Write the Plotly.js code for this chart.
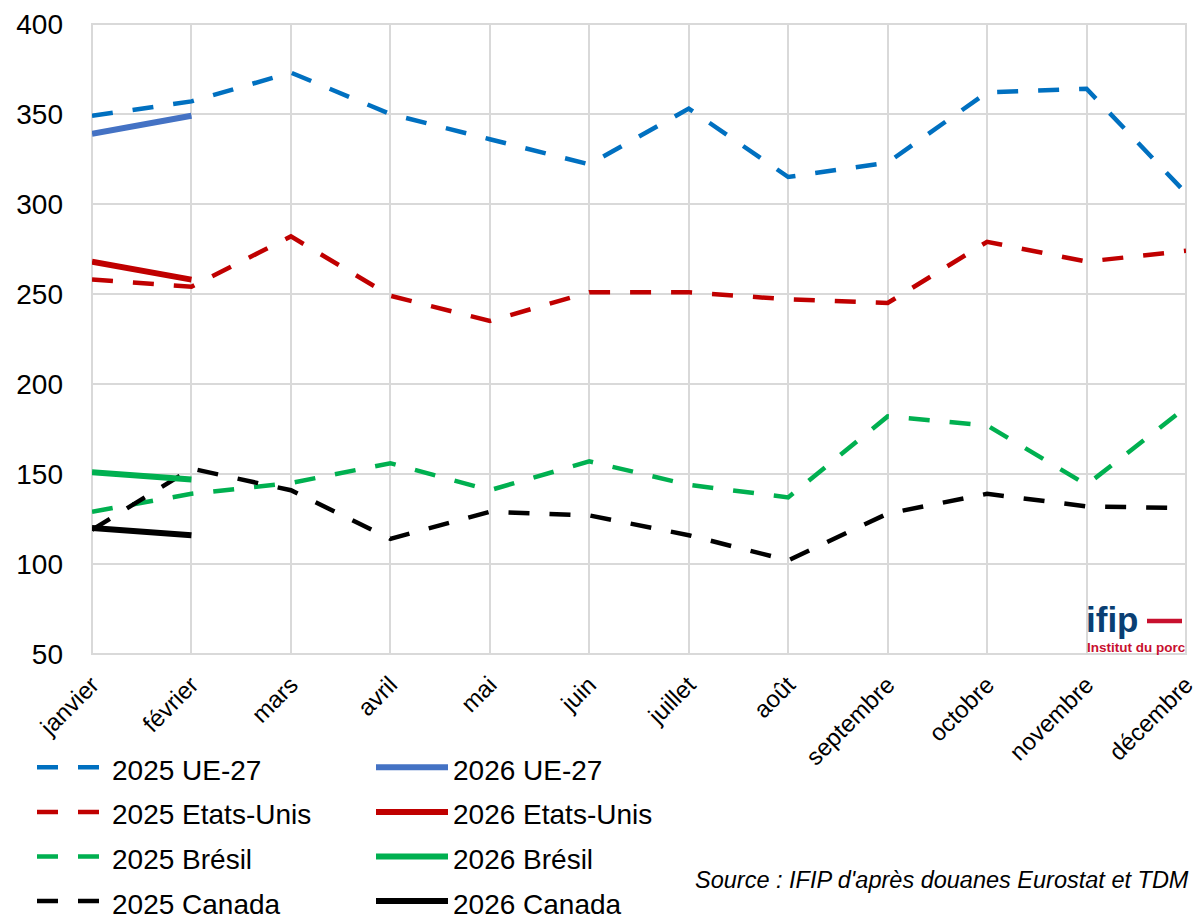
<!DOCTYPE html>
<html>
<head>
<meta charset="utf-8">
<script src="https://cdn.plot.ly/plotly-3.0.1.min.js"></script>
<style>html,body{margin:0;padding:0;background:#fff;}#chart{width:1194px;height:916px;}</style>
</head>
<body>
<div id="chart"></div>
<script>
const months = ["janvier","février","mars","avril","mai","juin","juillet","août","septembre","octobre","novembre","décembre"];
const ue2025 = [349,357,373,350,336,322,353,315,323,362,364,306];
const ue2026 = [339,349];
const us2025 = [258,254,282,249,235,251,251,247,245,279,268,274];
const us2026 = [268,258];
const br2025 = [129,139,145,156,141,157,144,137,182,177,144,187];
const br2026 = [151,147];
const ca2025 = [119,153,141,114,129,127,116,102,128,139,132,131];
const ca2026 = [120,116];
const seriesNames = ["2025 UE-27","2026 UE-27","2025 Etats-Unis","2026 Etats-Unis","2025 Brésil","2026 Brésil","2025 Canada","2026 Canada"];
const yTicks = [50,100,150,200,250,300,350,400];
const sourceText = "Source : IFIP d'après douanes Eurostat et TDM";

const FONT = "Liberation Sans, Arial, sans-serif";
const dashStyle = "21px,20px";
function tr(name, y, color, dashed){
  return {
    type: "scatter", mode: "lines",
    name: "<span style='font-size:28px'>" + name + "</span>",
    legend: dashed ? "legend" : "legend2",
    x: months.slice(0, y.length), y: y,
    line: {color: color, width: dashed ? 4.5 : 6, dash: dashed ? dashStyle : "solid"},
    hoverinfo: "skip"
  };
}
const data = [
  tr(seriesNames[0], ue2025, "#0070C0", true),
  tr(seriesNames[2], us2025, "#C00000", true),
  tr(seriesNames[4], br2025, "#00B050", true),
  tr(seriesNames[6], ca2025, "#000000", true),
  tr(seriesNames[1], ue2026, "#4472C4", false),
  tr(seriesNames[3], us2026, "#C00000", false),
  tr(seriesNames[5], br2026, "#00B050", false),
  tr(seriesNames[7], ca2026, "#000000", false)
];

const L = 92, R = 8, T = 24, B = 262;
const W = 1194 - L - R, H = 916 - T - B;
const px = v => (v - L) / W;
const py = v => (916 - B - v) / H;

const legendCommon = {
  orientation: "v", xref: "container", yref: "container",
  xanchor: "left", yanchor: "top",
  font: {size: 32, family: FONT, color: "#000"},
  bgcolor: "rgba(0,0,0,0)", traceorder: "normal", tracegroupgap: 0
};

const layout = {
  width: 1194, height: 916,
  margin: {l: L, r: R, t: T, b: B, autoexpand: false},
  paper_bgcolor: "#ffffff", plot_bgcolor: "#ffffff",
  font: {family: FONT, color: "#000000"},
  showlegend: true,
  xaxis: {
    type: "category", categoryorder: "array", categoryarray: months,
    range: [0, 11], showgrid: true, gridcolor: "#d9d9d9", gridwidth: 2,
    showline: false, zeroline: false, ticks: "",
    tickangle: -45, ticklabelstandoff: 11,
    tickfont: {size: 24, family: FONT, color: "#000"},
    fixedrange: true, automargin: false
  },
  yaxis: {
    range: [50, 400], tickvals: yTicks, ticktext: yTicks.map(String),
    showgrid: true, gridcolor: "#d9d9d9", gridwidth: 2,
    showline: false, zeroline: false, ticks: "", ticklabelstandoff: 28,
    tickfont: {size: 28, family: FONT},
    fixedrange: true, automargin: false
  },
  legend: Object.assign({}, legendCommon, {x: 32/1194, y: 1 - 740/916, itemwidth: 70}),
  legend2: Object.assign({}, legendCommon, {x: 371/1194, y: 1 - 740/916, itemwidth: 72}),
  shapes: [
    {type: "rect", xref: "x domain", yref: "y domain", x0: 0, x1: 1, y0: 0, y1: 1,
     line: {color: "#d9d9d9", width: 2}, layer: "below"},
    {type: "line", xref: "paper", yref: "paper", x0: px(1147), x1: px(1182),
     y0: py(621), y1: py(621), line: {color: "#C8102E", width: 4.5}}
  ],
  annotations: [
    {text: sourceText, xref: "paper", yref: "paper", x: px(693), y: py(880),
     xanchor: "left", yanchor: "middle", showarrow: false,
     font: {size: 23.5, family: FONT, color: "#000", style: "italic"}},
    {text: "<b>ifip</b>", xref: "paper", yref: "paper", x: px(1084), y: py(619),
     xanchor: "left", yanchor: "middle", showarrow: false,
     font: {size: 35, family: FONT, color: "#0A3F73"}},
    {text: "<b>Institut du porc</b>", xref: "paper", yref: "paper", x: px(1085), y: py(647),
     xanchor: "left", yanchor: "middle", showarrow: false,
     font: {size: 13.5, family: FONT, color: "#C8102E"}}
  ]
};

Plotly.newPlot("chart", data, layout, {displayModeBar: false, staticPlot: true});
</script>
</body>
</html>
